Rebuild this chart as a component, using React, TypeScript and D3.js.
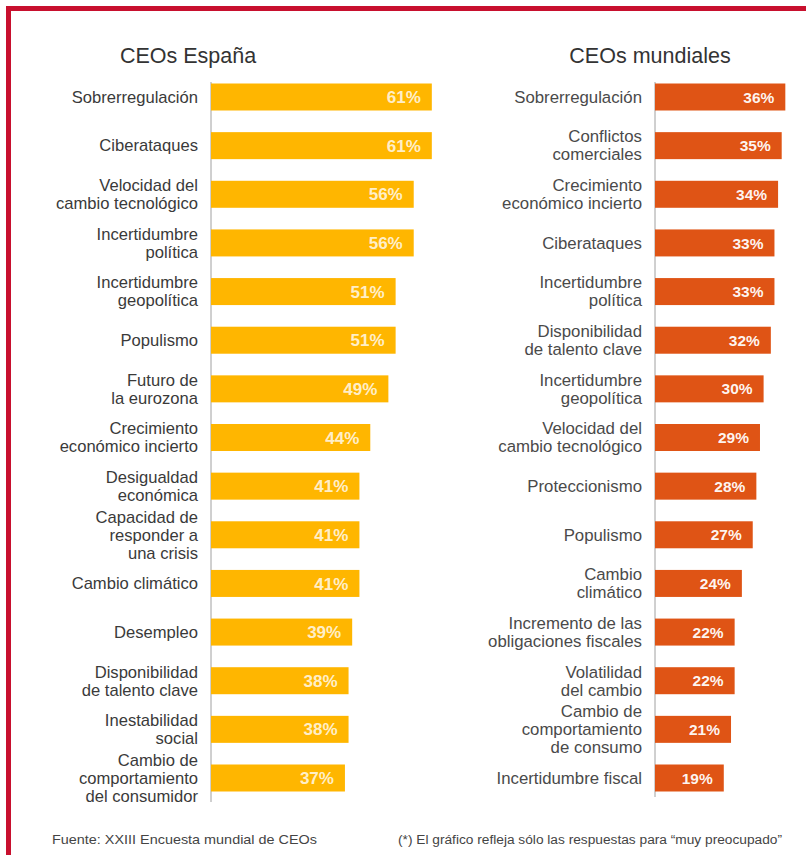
import React from "react";
import * as d3 from "d3";

const spainCategories = [
  "Sobrerregulación",
  "Ciberataques",
  "Velocidad del|cambio tecnológico",
  "Incertidumbre|política",
  "Incertidumbre|geopolítica",
  "Populismo",
  "Futuro de|la eurozona",
  "Crecimiento|económico incierto",
  "Desigualdad|económica",
  "Capacidad de|responder a|una crisis",
  "Cambio climático",
  "Desempleo",
  "Disponibilidad|de talento clave",
  "Inestabilidad|social",
  "Cambio de|comportamiento|del consumidor",
];
const spainValues = [61, 61, 56, 56, 51, 51, 49, 44, 41, 41, 41, 39, 38, 38, 37];

const worldCategories = [
  "Sobrerregulación",
  "Conflictos|comerciales",
  "Crecimiento|económico incierto",
  "Ciberataques",
  "Incertidumbre|política",
  "Disponibilidad|de talento clave",
  "Incertidumbre|geopolítica",
  "Velocidad del|cambio tecnológico",
  "Proteccionismo",
  "Populismo",
  "Cambio|climático",
  "Incremento de las|obligaciones fiscales",
  "Volatilidad|del cambio",
  "Cambio de|comportamiento|de consumo",
  "Incertidumbre fiscal",
];
const worldValues = [36, 35, 34, 33, 33, 32, 30, 29, 28, 27, 24, 22, 22, 21, 19];

const titles = ["CEOs España", "CEOs mundiales"];
const sourceNote = "Fuente: XXIII Encuesta mundial de CEOs";
const footNote = "(*) El gráfico refleja sólo las respuestas para \u201cmuy preocupado\u201d";

const W = 806;
const H = 855;
const FONT = "'Liberation Sans', Arial, Helvetica, sans-serif";

const x = d3.scaleLinear().domain([0, 100]).range([0, 362]);

function Panel({
  cats,
  vals,
  axisX,
  color,
  labelColor,
  valueOpacity,
  valueSize,
  axisEnd,
  labelSize,
}: {
  cats: string[];
  vals: number[];
  axisX: number;
  color: string;
  labelColor: string;
  valueOpacity: number;
  valueSize: number;
  axisEnd: number;
  labelSize: number;
}) {
  const y = d3.scalePoint<string>().domain(cats).range([97, 778]);
  const barH = 27;
  const lineH = 18;
  return (
    <g>
      <line x1={axisX} x2={axisX} y1={82} y2={axisEnd} stroke="#a0a0a0" strokeWidth={1} />
      {cats.map((c, i) => {
        const cy = y(c)!;
        const lines = c.split("|");
        const w = x(vals[i]);
        return (
          <g key={c}>
            <rect x={axisX} y={cy - barH / 2} width={w} height={barH} fill={color} />
            <text
              x={axisX + w - 11}
              y={cy}
              dy="0.36em"
              textAnchor="end"
              fill="#ffffff"
              fillOpacity={valueOpacity}
              fontSize={valueSize}
              fontWeight="bold"
              fontFamily={FONT}
            >
              {vals[i]}%
            </text>
            {lines.map((l, j) => (
              <text
                key={j}
                x={axisX - 13}
                y={cy + (j - (lines.length - 1) / 2) * lineH + 5.8}
                textAnchor="end"
                fill={labelColor}
                fontSize={labelSize}
                fontFamily={FONT}
              >
                {l}
              </text>
            ))}
          </g>
        );
      })}
    </g>
  );
}

export default function App() {
  return (
    <svg
      width={W}
      height={H}
      viewBox={`0 0 ${W} ${H}`}
      style={{ position: "absolute", left: 0, top: 0, background: "#ffffff" }}
    >
      <rect x={0} y={0} width={W} height={H} fill="#ffffff" />
      <rect x={6} y={6} width={W - 6} height={5} fill="#c8102e" />
      <rect x={6} y={6} width={5} height={H - 6} fill="#c8102e" />

      <text x={188} y={63} textAnchor="middle" fontSize={21.5} fill="#333" fontFamily={FONT}>
        {titles[0]}
      </text>
      <text x={650} y={63} textAnchor="middle" fontSize={21.5} fill="#333" fontFamily={FONT}>
        {titles[1]}
      </text>

      <Panel
        cats={spainCategories}
        vals={spainValues}
        axisX={211}
        color="#ffb600"
        labelColor="#3a3a3a"
        valueOpacity={0.8}
        valueSize={17}
        axisEnd={802}
        labelSize={16.6}
      />
      <Panel
        cats={worldCategories}
        vals={worldValues}
        axisX={655}
        color="#df5415"
        labelColor="#4a4a4a"
        valueOpacity={0.95}
        valueSize={15.5}
        axisEnd={797}
        labelSize={16.8}
      />

      <text x={52} y={844} fontSize={13.5} fill="#444" fontFamily={FONT} textLength={265} lengthAdjust="spacingAndGlyphs">
        {sourceNote}
      </text>
      <text x={398} y={844} fontSize={12} fill="#444" fontFamily={FONT} textLength={384} lengthAdjust="spacingAndGlyphs">
        {footNote}
      </text>
    </svg>
  );
}
